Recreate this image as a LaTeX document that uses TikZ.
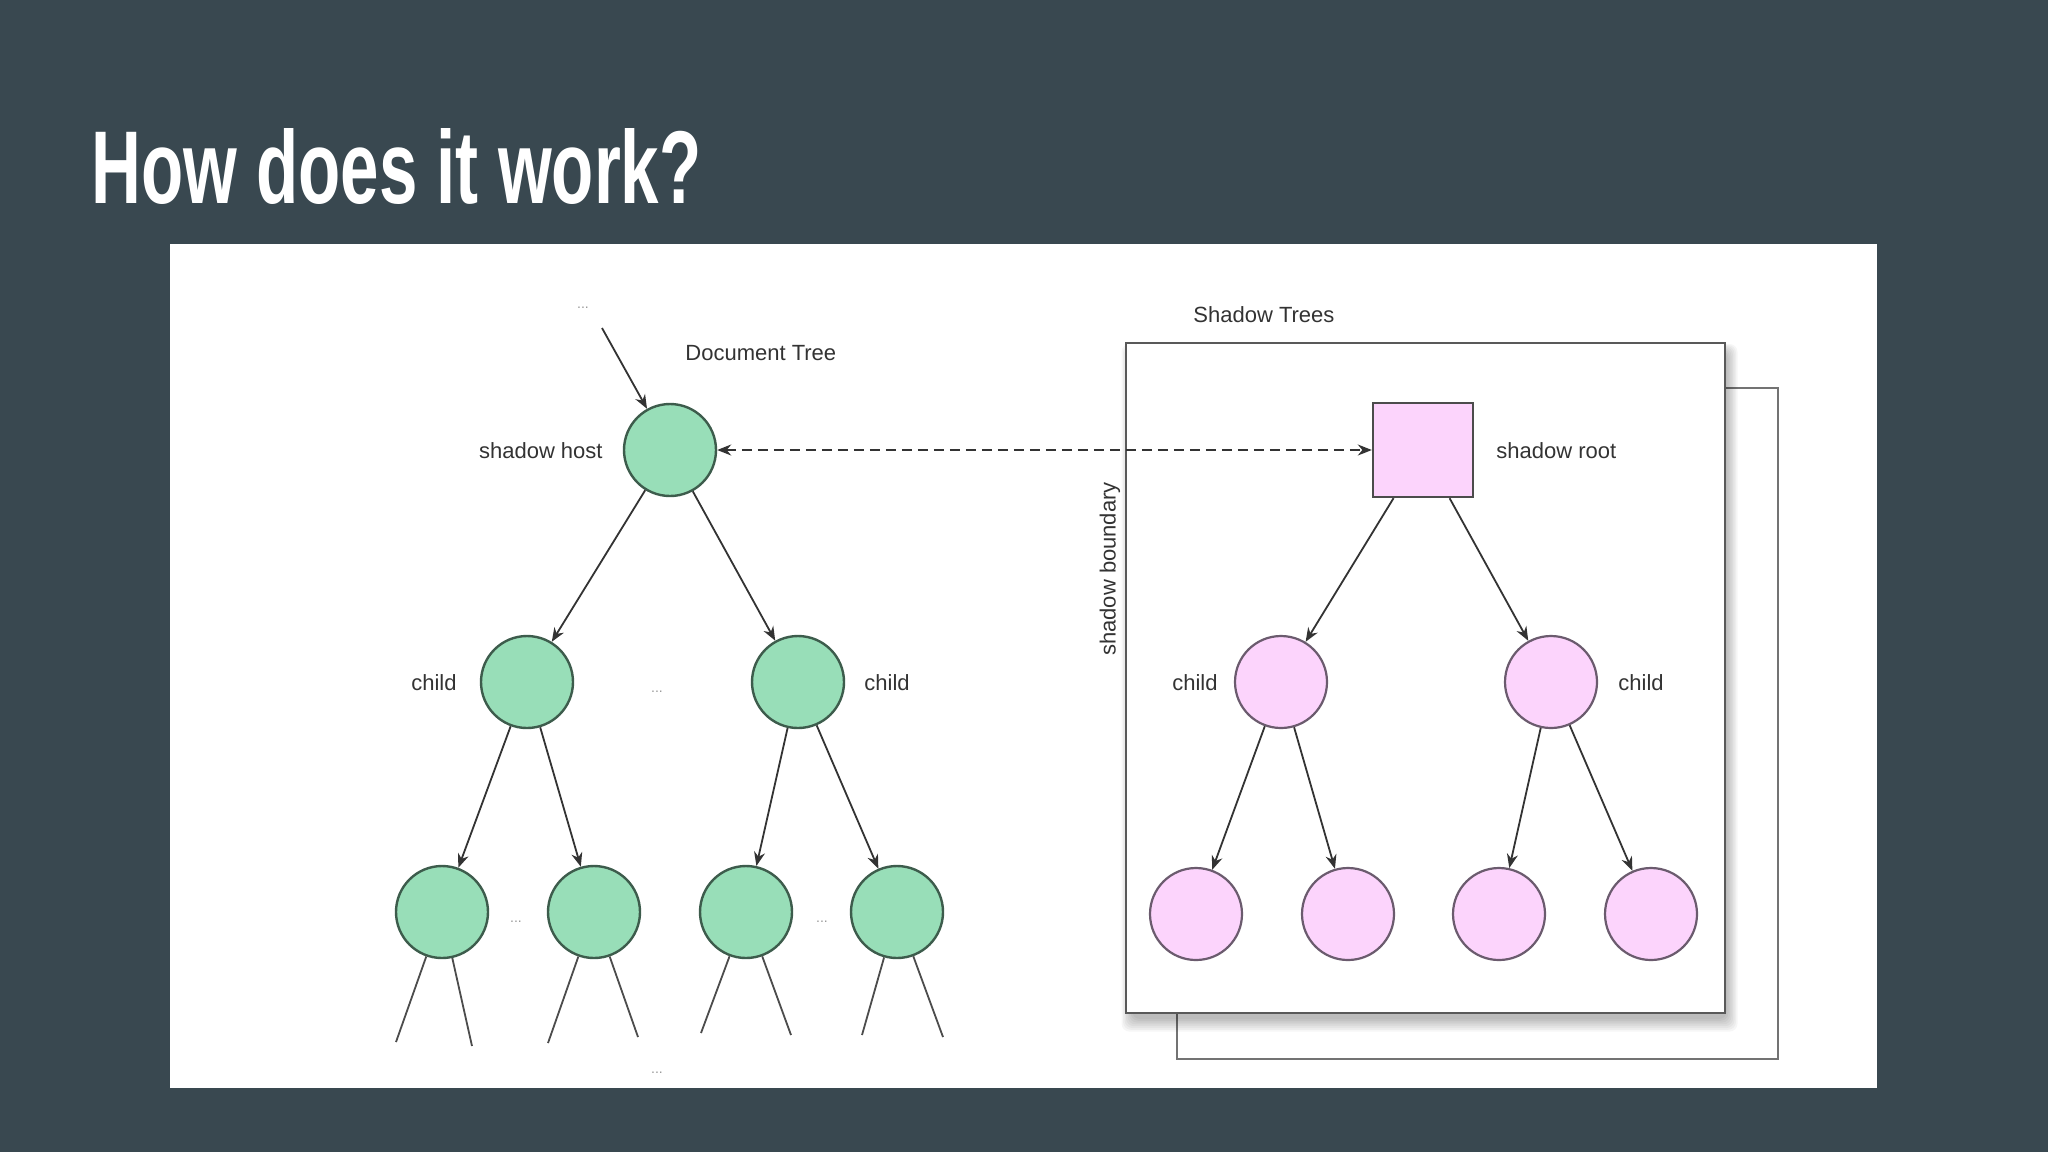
\documentclass[tikz,border=0pt]{standalone}
\usepackage{fontspec}
\setmainfont{Liberation Sans}
\usepackage{graphicx}
\usetikzlibrary{arrows.meta}
\definecolor{slate}{HTML}{394850}
\definecolor{gfill}{HTML}{98DEB8}
\definecolor{gline}{HTML}{3D5C4C}
\definecolor{pfill}{HTML}{FCD4FC}
\definecolor{pline}{HTML}{6B5B6E}
\definecolor{txt}{HTML}{333333}
\begin{document}
\begin{tikzpicture}[x=0.5pt,y=-0.5pt,
  gnode/.style={circle, draw=gline, fill=gfill, line width=1.2pt, minimum size=46pt, inner sep=0pt},
  pnode/.style={circle, draw=pline, fill=pfill, line width=1.1pt, minimum size=46pt, inner sep=0pt},
  lbl/.style={text=txt, font=\fontsize{11}{13}\selectfont, inner sep=0pt},
  dots/.style={text=black!40, font=\fontsize{7}{8}\selectfont, inner sep=0pt},
  edge/.style={draw=black!80, line width=0.9pt, -{Stealth[length=7pt,width=5.5pt]}},
  leaf/.style={draw=black!70, line width=0.9pt},
]
\useasboundingbox (0,0) rectangle (2048,1152);
\fill[slate] (0,0) rectangle (2048,1152);
% title
\node[anchor=base west, inner sep=0pt, text=white] (title) at (91,203)
  {\resizebox{305pt}{37.5pt}{\bfseries How does it work?}};
% white panel
\fill[white] (170,244) rectangle (1877,1088);

% shadow trees boxes
\draw[black!55, line width=1.2pt, fill=white] (1177,388) rectangle (1778,1059);
\foreach \i in {0,...,7}
  \fill[black, opacity=0.035, rounded corners=4pt] (1126-\i*1.5+6,343+8-\i) rectangle (1725+\i*1.5+2,1013+6+\i*1.8);
\draw[black!65, line width=1.4pt, fill=white] (1126,343) rectangle (1725,1013);

% labels
\node[dots] (topdots) at (583,308) {...};
\node[lbl, anchor=west] (doclbl) at (685,353) {Document Tree};
\node[lbl, anchor=west] (shlbl) at (1193,315) {Shadow Trees};
\node[lbl, rotate=90] (bndlbl) at (1110,569) {shadow boundary};

% document tree
\node[gnode] (host) at (670,450) {};
\node[lbl, anchor=east] (hostlbl) at (603,451) {shadow host};
\node[gnode] (c1) at (527,682) {};
\node[gnode] (c2) at (798,682) {};
\node[lbl, anchor=east] (c1lbl) at (457,683) {child};
\node[lbl, anchor=west] (c2lbl) at (864,683) {child};
\node[dots] (mdots) at (657,692) {...};
\node[gnode] (g1) at (442,912) {};
\node[gnode] (g2) at (594,912) {};
\node[gnode] (g3) at (746,912) {};
\node[gnode] (g4) at (897,912) {};
\node[dots] (d1) at (516,922) {...};
\node[dots] (d2) at (822,922) {...};
\node[dots] (d3) at (657,1073) {...};

\coordinate (topstart) at (602,328);
\draw[edge] (topstart) -- (host);
\draw[edge] (host) -- (c1);
\draw[edge] (host) -- (c2);
\draw[edge] (c1) -- (g1);
\draw[edge] (c1) -- (g2);
\draw[edge] (c2) -- (g3);
\draw[edge] (c2) -- (g4);

\coordinate (l1a) at (396,1042); \coordinate (l1b) at (472,1046);
\coordinate (l2a) at (548,1043); \coordinate (l2b) at (638,1037);
\coordinate (l3a) at (701,1033); \coordinate (l3b) at (791,1035);
\coordinate (l4a) at (862,1035); \coordinate (l4b) at (943,1037);
\draw[leaf] (g1) -- (l1a); \draw[leaf] (g1) -- (l1b);
\draw[leaf] (g2) -- (l2a); \draw[leaf] (g2) -- (l2b);
\draw[leaf] (g3) -- (l3a); \draw[leaf] (g3) -- (l3b);
\draw[leaf] (g4) -- (l4a); \draw[leaf] (g4) -- (l4b);

% shadow tree
\node[draw=black!70, fill=pfill, line width=1.2pt, minimum width=50pt, minimum height=47pt, inner sep=0pt] (root) at (1423,450) {};
\node[lbl, anchor=west] (rootlbl) at (1496,451) {shadow root};
\node[pnode] (p1) at (1281,682) {};
\node[pnode] (p2) at (1551,682) {};
\node[lbl, anchor=east] (p1lbl) at (1218,683) {child};
\node[lbl, anchor=west] (p2lbl) at (1618,683) {child};
\node[pnode] (q1) at (1196,914) {};
\node[pnode] (q2) at (1348,914) {};
\node[pnode] (q3) at (1499,914) {};
\node[pnode] (q4) at (1651,914) {};
\draw[edge] (root) -- (p1);
\draw[edge] (root) -- (p2);
\draw[edge] (p1) -- (q1);
\draw[edge] (p1) -- (q2);
\draw[edge] (p2) -- (q3);
\draw[edge] (p2) -- (q4);

% dashed link
\draw[draw=black!80, line width=0.9pt, dash pattern=on 5pt off 3pt,
  {Stealth[length=7pt,width=5.5pt]}-{Stealth[length=7pt,width=5.5pt]}] (host) -- (root);
\end{tikzpicture}
\end{document}
